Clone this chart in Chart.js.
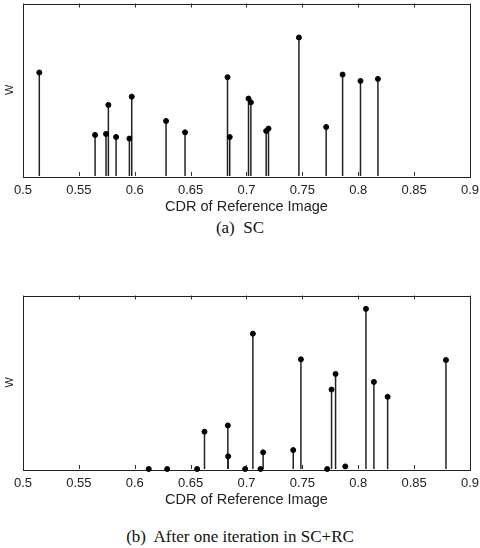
<!DOCTYPE html>
<html>
<head>
<meta charset="utf-8">
<script src="https://cdn.jsdelivr.net/npm/chart.js@4.4.1/dist/chart.umd.min.js"></script>
<style>
  body { margin: 0; background: #fff; }
  .box { position: absolute; left: 0; width: 480px; }
  .cap { position: absolute; left: 0; width: 480px; text-align: center;
         font-family: "Liberation Serif", "Times New Roman", serif; font-size: 17px; color: #111; }
</style>
</head>
<body>
<div class="box" style="top:0;height:216px"><canvas id="chartA"></canvas></div>
<div class="cap" style="top:218px">(a)&nbsp; SC</div>
<div class="box" style="top:292px;height:217px"><canvas id="chartB"></canvas></div>
<div class="cap" style="top:527px">(b)&nbsp; After one iteration in SC+RC</div>
<script>
// setup
const tickLabels = ['0.5', '0.55', '0.6', '0.65', '0.7', '0.75', '0.8', '0.85', '0.9'];

// (a) SC
const cdrA = [0.5146, 0.5645, 0.5743, 0.5764, 0.5833, 0.5952, 0.5973, 0.628, 0.645, 0.683,
  0.685, 0.7018, 0.7039, 0.7176, 0.7197, 0.7469, 0.7713, 0.786, 0.802, 0.8176];
const wA = [0.600, 0.238, 0.244, 0.412, 0.226, 0.217, 0.460, 0.319, 0.253, 0.573,
  0.226, 0.449, 0.427, 0.261, 0.275, 0.803, 0.284, 0.588, 0.551, 0.563];

// (b) after one iteration in SC+RC
const cdrB = [0.6125, 0.629, 0.6558, 0.6624, 0.6833, 0.6836, 0.6988, 0.7057, 0.7125, 0.7149,
  0.7418, 0.7487, 0.7722, 0.7761, 0.7797, 0.7884, 0.8069, 0.814, 0.8263, 0.8785];
const wB = [0, 0, 0, 0.215, 0.251, 0.073, 0, 0.780, 0, 0.096,
  0.109, 0.632, 0, 0.458, 0.548, 0.015, 0.923, 0.502, 0.416, 0.628];

// stems + axes box + inward ticks
const stemPlugin = {
  id: 'stems',
  beforeDatasetsDraw(chart) {
    const c = chart.ctx, a = chart.chartArea;
    const xs = chart.scales.x, ys = chart.scales.y;
    const base = ys.getPixelForValue(0);
    c.save();
    c.strokeStyle = '#222';
    c.lineWidth = 1.5;
    chart.getDatasetMeta(0).data.forEach(el => {
      c.beginPath();
      c.moveTo(el.x, el.y);
      c.lineTo(el.x, base);
      c.stroke();
    });
    // ticks on top and bottom, pointing in
    c.strokeStyle = '#333';
    c.lineWidth = 1;
    xs.ticks.forEach(t => {
      const px = Math.round(xs.getPixelForValue(t.value)) + 0.5;
      c.beginPath();
      c.moveTo(px, a.bottom);
      c.lineTo(px, a.bottom - 4);
      c.moveTo(px, a.top);
      c.lineTo(px, a.top + 4);
      c.stroke();
    });
    c.strokeStyle = '#222';
    c.strokeRect(Math.round(a.left) + 0.5, Math.round(a.top) + 0.5,
      Math.round(a.right - a.left), Math.round(a.bottom - a.top));
    c.restore();
  }
};

function makeConfig(xs, ys) {
  return {
    type: 'scatter',
    data: {
      datasets: [{
        data: xs.map((x, i) => ({ x: x, y: ys[i] })),
        backgroundColor: '#000',
        borderColor: '#000',
        pointRadius: 2.5,
        pointHoverRadius: 2.5,
        clip: false
      }]
    },
    options: {
      responsive: true,
      maintainAspectRatio: false,
      animation: false,
      layout: { padding: { top: 3, right: 0, left: 0, bottom: 0 } },
      plugins: { legend: { display: false }, tooltip: { enabled: false } },
      scales: {
        x: {
          type: 'linear',
          min: 0.5,
          max: 0.9,
          grid: { display: false, drawTicks: false },
          border: { display: false },
          ticks: {
            stepSize: 0.05,
            autoSkip: false,
            maxRotation: 0,
            padding: 7,
            color: '#222',
            font: { family: 'Liberation Sans, Arial, sans-serif', size: 13 },
            callback: (v, i) => tickLabels[i]
          },
          title: {
            display: true,
            text: 'CDR of Reference Image',
            color: '#222',
            padding: { top: 1, bottom: 0 },
            font: { family: 'Liberation Sans, Arial, sans-serif', size: 14.5 }
          },
          afterFit: s => { s.height = 40; s.paddingRight = 10; s.paddingLeft = 0; }
        },
        y: {
          min: 0,
          max: 1,
          grid: { display: false, drawTicks: false },
          border: { display: false },
          ticks: { display: false },
          title: {
            display: true,
            text: 'W',
            color: '#222',
            padding: 3,
            font: { family: 'Liberation Sans, Arial, sans-serif', size: 11 }
          },
          afterFit: s => { s.width = 23; }
        }
      }
    },
    plugins: [stemPlugin]
  };
}

// render init block
const chartA = new Chart(document.getElementById('chartA'), makeConfig(cdrA, wA));
const chartB = new Chart(document.getElementById('chartB'), makeConfig(cdrB, wB));
</script>
</body>
</html>
